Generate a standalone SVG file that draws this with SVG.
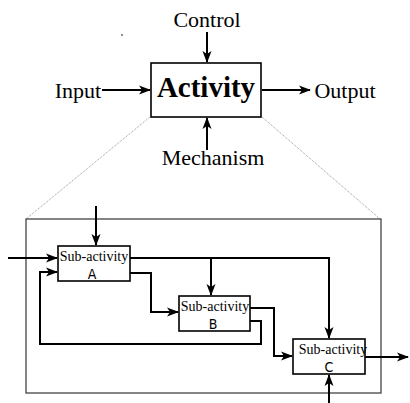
<svg xmlns="http://www.w3.org/2000/svg" width="410" height="403" viewBox="0 0 410 403">
  <defs>
    <marker id="arrow" markerUnits="userSpaceOnUse" markerWidth="12" markerHeight="10" refX="11" refY="5" orient="auto">
      <path d="M0,0.5 L12,5 L0,9.5 L3,5 Z" fill="#000"/>
    </marker>
    <style>
      .lbl { font-family: "Liberation Serif", "Times New Roman", serif; font-size: 22px; fill: #000; }
      .title { font-family: "Liberation Serif", "Times New Roman", serif; font-size: 29px; font-weight: bold; fill: #000; }
      .sub { font-family: "Liberation Serif", "Times New Roman", serif; font-size: 14px; fill: #000; }
      .letter { font-family: "DejaVu Sans Condensed", "DejaVu Sans", sans-serif; font-stretch: condensed; font-size: 14px; fill: #000; }
      .box { fill: #fff; stroke: #000; stroke-width: 1.6; }
      .wire { fill: none; stroke: #000; stroke-width: 2; }
      .zoom { fill: none; stroke: #999; stroke-width: 1; stroke-dasharray: 1 1; }
    </style>
  </defs>

  <!-- top-level activity -->
  <g id="activity">
    <rect class="box" x="151" y="63" width="110" height="54"/>
    <text class="title" x="206" y="97" text-anchor="middle">Activity</text>
  </g>
  <g id="control"><text class="lbl" x="207" y="27" text-anchor="middle">Control</text></g>
  <g id="input"><text class="lbl" x="78" y="98" text-anchor="middle">Input</text></g>
  <g id="output"><text class="lbl" x="345" y="98" text-anchor="middle">Output</text></g>
  <g id="mechanism"><text class="lbl" x="213" y="165" text-anchor="middle">Mechanism</text></g>
  <circle cx="122" cy="35" r="0.8" fill="#000"/>

  <!-- decomposition guide lines -->
  <g id="zoom-lines">
    <line class="zoom" x1="150" y1="117" x2="26" y2="219"/>
    <line class="zoom" x1="262" y1="117" x2="380" y2="219"/>
  </g>

  <!-- decomposition frame -->
  <g id="frame">
    <rect x="26" y="219" width="355" height="174" fill="none" stroke="#444" stroke-width="1.3"/>
  </g>

  <!-- connectors -->
  <g id="connectors">
    <line class="wire" x1="207" y1="32" x2="207" y2="62" marker-end="url(#arrow)"/>
    <line class="wire" x1="102" y1="90" x2="150" y2="90" marker-end="url(#arrow)"/>
    <line class="wire" x1="262" y1="90" x2="310" y2="90" marker-end="url(#arrow)"/>
    <line class="wire" x1="207" y1="150" x2="207" y2="118" marker-end="url(#arrow)"/>

    <line class="wire" x1="96" y1="206" x2="96" y2="245" marker-end="url(#arrow)"/>
    <line class="wire" x1="8" y1="258" x2="57" y2="258" marker-end="url(#arrow)"/>
    <polyline class="wire" points="250,321 261,321 261,344 40,344 40,272 57,272" marker-end="url(#arrow)"/>
    <polyline class="wire" points="130,258 329,258 329,338" marker-end="url(#arrow)"/>
    <line class="wire" x1="211" y1="258" x2="211" y2="295" marker-end="url(#arrow)"/>
    <polyline class="wire" points="130,273 151,273 151,312 178,312" marker-end="url(#arrow)"/>
    <polyline class="wire" points="250,308 274,308 274,356 292,356" marker-end="url(#arrow)"/>
    <line class="wire" x1="365" y1="357" x2="408" y2="357" marker-end="url(#arrow)"/>
    <line class="wire" x1="329" y1="403" x2="329" y2="375" marker-end="url(#arrow)"/>
  </g>

  <!-- sub-activities -->
  <g id="sub-a">
    <rect class="box" x="58" y="246" width="72" height="35"/>
    <text class="sub" x="94" y="261" text-anchor="middle">Sub-activity</text>
    <text class="letter" x="92" y="278.5" text-anchor="middle">A</text>
  </g>
  <g id="sub-b">
    <rect class="box" x="179" y="296" width="71" height="35"/>
    <text class="sub" x="215" y="311" text-anchor="middle">Sub-activity</text>
    <text class="letter" x="213" y="328.5" text-anchor="middle">B</text>
  </g>
  <g id="sub-c">
    <rect class="box" x="293" y="339" width="72" height="35"/>
    <text class="sub" x="333" y="354" text-anchor="middle">Sub-activity</text>
    <text class="letter" x="329" y="371.5" text-anchor="middle">C</text>
  </g>
</svg>
